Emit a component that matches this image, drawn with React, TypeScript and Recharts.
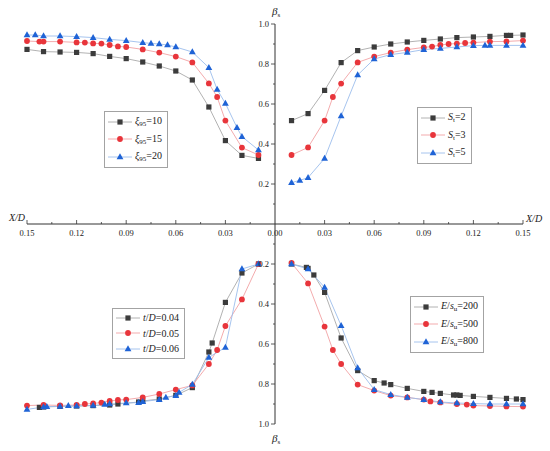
import React from 'react';
import { LineChart, Line, XAxis, YAxis, Legend, Label } from 'recharts';

type Pt = [number, number];
type Kind = 'square' | 'circle' | 'triangle';

const SERIF = '"Liberation Serif", "Times New Roman", serif';
const AXIS = '#333';

// tick values (same on both sides / both halves)
const xMajor = [0.03, 0.06, 0.09, 0.12, 0.15];
const xMinor = [0.015, 0.045, 0.075, 0.105, 0.135];
const yMajor = [0.2, 0.4, 0.6, 0.8, 1.0];
const yMinor = [0.1, 0.3, 0.5, 0.7, 0.9];

// top-left: xi95  [X/D, beta_s]
const xi95_10: Pt[] = [[0.15, 0.873], [0.14, 0.862], [0.13, 0.86], [0.12, 0.858], [0.11, 0.852], [0.1, 0.838], [0.09, 0.827], [0.08, 0.81], [0.07, 0.79], [0.06, 0.765], [0.05, 0.72], [0.04, 0.585], [0.03, 0.417], [0.02, 0.343], [0.01, 0.328]];
const xi95_15: Pt[] = [[0.15, 0.915], [0.1425, 0.912], [0.14, 0.912], [0.13, 0.912], [0.12, 0.908], [0.115, 0.907], [0.11, 0.903], [0.105, 0.902], [0.1, 0.895], [0.095, 0.888], [0.09, 0.885], [0.08, 0.873], [0.07, 0.857], [0.06, 0.837], [0.05, 0.808], [0.04, 0.703], [0.035, 0.635], [0.03, 0.517], [0.02, 0.382], [0.01, 0.345]];
const xi95_20: Pt[] = [[0.15, 0.945], [0.145, 0.945], [0.14, 0.94], [0.13, 0.94], [0.12, 0.937], [0.11, 0.932], [0.1, 0.923], [0.09, 0.917], [0.08, 0.907], [0.075, 0.903], [0.07, 0.9], [0.065, 0.895], [0.06, 0.885], [0.05, 0.86], [0.04, 0.782], [0.035, 0.673], [0.03, 0.603], [0.023, 0.482], [0.02, 0.437], [0.01, 0.37]];

// top-right: St
const st2: Pt[] = [[0.01, 0.517], [0.02, 0.552], [0.03, 0.668], [0.04, 0.807], [0.05, 0.867], [0.06, 0.885], [0.07, 0.9], [0.08, 0.91], [0.09, 0.918], [0.1, 0.925], [0.11, 0.932], [0.12, 0.935], [0.13, 0.938], [0.14, 0.943], [0.1425, 0.943], [0.15, 0.945]];
const st3: Pt[] = [[0.01, 0.345], [0.02, 0.383], [0.03, 0.517], [0.035, 0.635], [0.04, 0.702], [0.05, 0.808], [0.06, 0.837], [0.07, 0.857], [0.08, 0.872], [0.09, 0.883], [0.095, 0.887], [0.1, 0.895], [0.105, 0.9], [0.11, 0.902], [0.115, 0.905], [0.12, 0.907], [0.13, 0.912], [0.14, 0.913], [0.15, 0.917]];
const st5: Pt[] = [[0.01, 0.207], [0.015, 0.218], [0.02, 0.232], [0.03, 0.328], [0.04, 0.54], [0.05, 0.745], [0.06, 0.825], [0.07, 0.847], [0.08, 0.858], [0.09, 0.872], [0.1, 0.878], [0.11, 0.885], [0.12, 0.892], [0.127, 0.893], [0.13, 0.893], [0.14, 0.893], [0.15, 0.893]];

// bottom-left: t/D
const tD04: Pt[] = [[0.1425, 0.917], [0.14, 0.915], [0.13, 0.912], [0.12, 0.91], [0.11, 0.908], [0.1, 0.905], [0.095, 0.9], [0.0825, 0.89], [0.08, 0.885], [0.07, 0.875], [0.06, 0.857], [0.05, 0.818], [0.04, 0.64], [0.038, 0.595], [0.03, 0.392], [0.02, 0.245], [0.01, 0.2]];
const tD05: Pt[] = [[0.15, 0.908], [0.14, 0.905], [0.13, 0.907], [0.12, 0.905], [0.115, 0.9], [0.11, 0.897], [0.105, 0.893], [0.1, 0.885], [0.095, 0.88], [0.09, 0.878], [0.08, 0.867], [0.07, 0.85], [0.06, 0.828], [0.05, 0.807], [0.04, 0.7], [0.035, 0.63], [0.03, 0.51], [0.02, 0.377], [0.01, 0.2]];
const tD06: Pt[] = [[0.15, 0.927], [0.14, 0.915], [0.138, 0.913], [0.13, 0.912], [0.125, 0.908], [0.12, 0.91], [0.11, 0.907], [0.103, 0.902], [0.1, 0.9], [0.09, 0.895], [0.0825, 0.893], [0.08, 0.888], [0.07, 0.878], [0.066, 0.867], [0.06, 0.858], [0.058, 0.842], [0.05, 0.802], [0.04, 0.667], [0.03, 0.617], [0.02, 0.225], [0.01, 0.2]];

// bottom-right: E/su
const es200: Pt[] = [[0.01, 0.2], [0.019, 0.217], [0.02, 0.222], [0.0235, 0.255], [0.03, 0.342], [0.04, 0.57], [0.05, 0.733], [0.06, 0.783], [0.066, 0.795], [0.07, 0.803], [0.08, 0.822], [0.09, 0.837], [0.095, 0.842], [0.1, 0.847], [0.108, 0.855], [0.11, 0.855], [0.112, 0.857], [0.12, 0.862], [0.13, 0.867], [0.14, 0.872], [0.146, 0.875], [0.15, 0.878]];
const es500: Pt[] = [[0.01, 0.195], [0.02, 0.297], [0.03, 0.513], [0.035, 0.63], [0.04, 0.7], [0.05, 0.803], [0.06, 0.833], [0.07, 0.858], [0.08, 0.867], [0.09, 0.878], [0.094, 0.887], [0.1, 0.892], [0.11, 0.9], [0.116, 0.903], [0.12, 0.908], [0.13, 0.91], [0.14, 0.912], [0.15, 0.913]];
const es800: Pt[] = [[0.01, 0.2], [0.02, 0.225], [0.03, 0.317], [0.04, 0.508], [0.05, 0.72], [0.06, 0.828], [0.07, 0.853], [0.08, 0.867], [0.09, 0.878], [0.1, 0.89], [0.11, 0.895], [0.12, 0.898], [0.13, 0.9], [0.14, 0.9], [0.15, 0.9]];

const INK: Record<Kind, string> = { square: '#3c3c3c', circle: '#e8353b', triangle: '#1f63d6' };
const LINE: Record<Kind, string> = { square: '#a9a9a9', circle: '#f2a1a4', triangle: '#9cbdec' };

interface Series {
  key: string;
  data: Pt[];
  kind: Kind;
  label: React.ReactNode;
}

const Sub = ({ children }: { children: React.ReactNode }) => (
  <span style={{ fontSize: 7, position: 'relative', top: 2 }}>{children}</span>
);

const xiLabel = (v: string) => (
  <>
    <i>ξ</i>
    <Sub>95</Sub>={v}
  </>
);
const stLabel = (v: string) => (
  <>
    <i>S</i>
    <Sub>t</Sub>={v}
  </>
);
const tdLabel = (v: string) => (
  <>
    <i>t</i>/<i>D</i>={v}
  </>
);
const esLabel = (v: string) => (
  <>
    <i>E</i>/<i>s</i>
    <Sub>u</Sub>={v}
  </>
);

const topLeft: Series[] = [
  { key: 'xi10', data: xi95_10, kind: 'square', label: xiLabel('10') },
  { key: 'xi15', data: xi95_15, kind: 'circle', label: xiLabel('15') },
  { key: 'xi20', data: xi95_20, kind: 'triangle', label: xiLabel('20') },
];
const topRight: Series[] = [
  { key: 'st2', data: st2, kind: 'square', label: stLabel('2') },
  { key: 'st3', data: st3, kind: 'circle', label: stLabel('3') },
  { key: 'st5', data: st5, kind: 'triangle', label: stLabel('5') },
];
const bottomLeft: Series[] = [
  { key: 'td04', data: tD04, kind: 'square', label: tdLabel('0.04') },
  { key: 'td05', data: tD05, kind: 'circle', label: tdLabel('0.05') },
  { key: 'td06', data: tD06, kind: 'triangle', label: tdLabel('0.06') },
];
const bottomRight: Series[] = [
  { key: 'es200', data: es200, kind: 'square', label: esLabel('200') },
  { key: 'es500', data: es500, kind: 'circle', label: esLabel('500') },
  { key: 'es800', data: es800, kind: 'triangle', label: esLabel('800') },
];

function Marker({ kind, cx, cy }: { kind: Kind; cx: number; cy: number }) {
  const c = INK[kind];
  if (kind === 'square') return <rect x={cx - 2.6} y={cy - 2.6} width={5.2} height={5.2} fill={c} />;
  if (kind === 'circle') return <circle cx={cx} cy={cy} r={2.9} fill={c} />;
  return <polygon points={`${cx},${cy - 3.7} ${cx - 3.4},${cy + 2.3} ${cx + 3.4},${cy + 2.3}`} fill={c} />;
}

const isMajor = (list: number[], v: number) => list.some((m) => Math.abs(m - v) < 1e-9);

const XTick = (p: any) => {
  const v: number = p.payload.value;
  const major = v === 0 || isMajor(xMajor, v);
  return (
    <g>
      {v !== 0 && <line x1={p.x} x2={p.x} y1={p.y} y2={p.y - (major ? 4 : 2)} stroke={AXIS} strokeWidth={0.8} />}
      {major && (
        <text x={p.x} y={p.y + 12} textAnchor="middle" fontSize={8.5} fontFamily={SERIF} fill="#222">
          {v.toFixed(2)}
        </text>
      )}
    </g>
  );
};

const YTick = (p: any) => {
  const v: number = p.payload.value;
  const major = isMajor(yMajor, v);
  return (
    <g>
      <line x1={p.x - (major ? 4 : 2)} x2={p.x} y1={p.y} y2={p.y} stroke={AXIS} strokeWidth={0.8} />
      {major && (
        <text x={p.x - 6} y={p.y} dy="0.35em" textAnchor="end" fontSize={8.5} fontFamily={SERIF} fill="#222">
          {v.toFixed(1)}
        </text>
      )}
    </g>
  );
};

function LegendBox({ series }: { series: Series[] }) {
  return (
    <div
      style={{
        border: '1px solid #a3a3a3',
        background: '#fff',
        padding: '1px 5px 1px 2px',
        fontFamily: SERIF,
        fontSize: 10,
        lineHeight: '15.5px',
        color: '#222',
      }}
    >
      {series.map((s) => (
        <div key={s.key} style={{ display: 'flex', alignItems: 'center', whiteSpace: 'nowrap' }}>
          <svg width={26} height={10}>
            <line x1={1} x2={25} y1={5} y2={5} stroke={LINE[s.kind]} strokeWidth={0.9} />
            <Marker kind={s.kind} cx={13} cy={5} />
          </svg>
          <span style={{ marginLeft: 2 }}>{s.label}</span>
        </div>
      ))}
    </div>
  );
}

const BetaLabel = ({ x, y }: { x: number; y: number }) => (
  <text x={x} y={y} textAnchor="middle" fontFamily={SERIF} fill="#222">
    <tspan fontStyle="italic" fontSize={11}>β</tspan>
    <tspan fontSize={7} dy={2}>s</tspan>
  </text>
);

const XDLabel = ({ x, y, anchor }: { x: number; y: number; anchor: 'start' | 'end' }) => (
  <text x={x} y={y} textAnchor={anchor} fontFamily={SERIF} fontSize={10} fontStyle="italic" fill="#222">
    X/D
  </text>
);

function Quad({
  side,
  half,
  series,
  legendAt,
}: {
  side: 'left' | 'right';
  half: 'top' | 'bottom';
  series: Series[];
  legendAt: [number, number];
}) {
  const right = side === 'right';
  const bottom = half === 'bottom';
  const width = right ? 305 : 275;
  const height = bottom ? 227 : 244;
  const margin = { top: bottom ? 0 : 24, bottom: bottom ? 27 : 0, left: right ? 0 : 27, right: right ? 27 : 0 };
  const xTicks = right ? [0, ...xMajor, ...xMinor] : [...xMajor, ...xMinor];

  return (
    <div style={{ position: 'absolute', left: right ? 245 : 0, top: bottom ? 224 : 0 }}>
      <LineChart width={width} height={height} margin={margin}>
        <XAxis
          dataKey="x"
          type="number"
          domain={[0, 0.15]}
          reversed={!right}
          ticks={xTicks}
          interval={0}
          hide={bottom}
          height={20}
          axisLine={{ stroke: AXIS, strokeWidth: 1 }}
          tickLine={false}
          tickSize={0}
          tickMargin={0}
          tick={XTick}
        >
          <Label
            content={(p: any) =>
              right ? (
                <XDLabel x={p.viewBox.x + p.viewBox.width + 3} y={p.viewBox.y - 2} anchor="start" />
              ) : (
                <XDLabel x={p.viewBox.x - 2} y={p.viewBox.y - 3} anchor="end" />
              )
            }
          />
        </XAxis>
        <YAxis
          type="number"
          domain={[0, 1]}
          reversed={bottom}
          ticks={[...yMajor, ...yMinor]}
          interval={0}
          hide={!right}
          width={30}
          axisLine={{ stroke: AXIS, strokeWidth: 1 }}
          tickLine={false}
          tickSize={0}
          tickMargin={0}
          tick={YTick}
        >
          <Label
            content={(p: any) => {
              const vb = p.viewBox;
              const ax = vb.x + vb.width + 1;
              return bottom ? <BetaLabel x={ax} y={vb.y + vb.height + 18} /> : <BetaLabel x={ax} y={vb.y - 9} />;
            }}
          />
        </YAxis>
        {series.map((s) => (
          <Line
            key={s.key}
            name={s.key}
            data={s.data.map(([x, b]) => ({ x, b }))}
            dataKey="b"
            stroke={LINE[s.kind]}
            strokeWidth={0.9}
            dot={(p: any) => <Marker key={`${s.key}-${p.index}`} kind={s.kind} cx={p.cx} cy={p.cy} />}
            activeDot={false}
            isAnimationActive={false}
          />
        ))}
        <Legend
          layout="vertical"
          align="center"
          verticalAlign="middle"
          content={() => <LegendBox series={series} />}
          wrapperStyle={{ left: legendAt[0], top: legendAt[1], width: 'auto' }}
        />
      </LineChart>
    </div>
  );
}

export default function App() {
  return (
    <div style={{ position: 'absolute', left: 0, top: 0, width: 550, height: 451, background: '#fff' }}>
      <Quad side="left" half="top" series={topLeft} legendAt={[104, 111]} />
      <Quad side="right" half="top" series={topRight} legendAt={[172, 107]} />
      <Quad side="left" half="bottom" series={bottomLeft} legendAt={[112, 84]} />
      <Quad side="right" half="bottom" series={bottomRight} legendAt={[165, 72]} />
    </div>
  );
}
